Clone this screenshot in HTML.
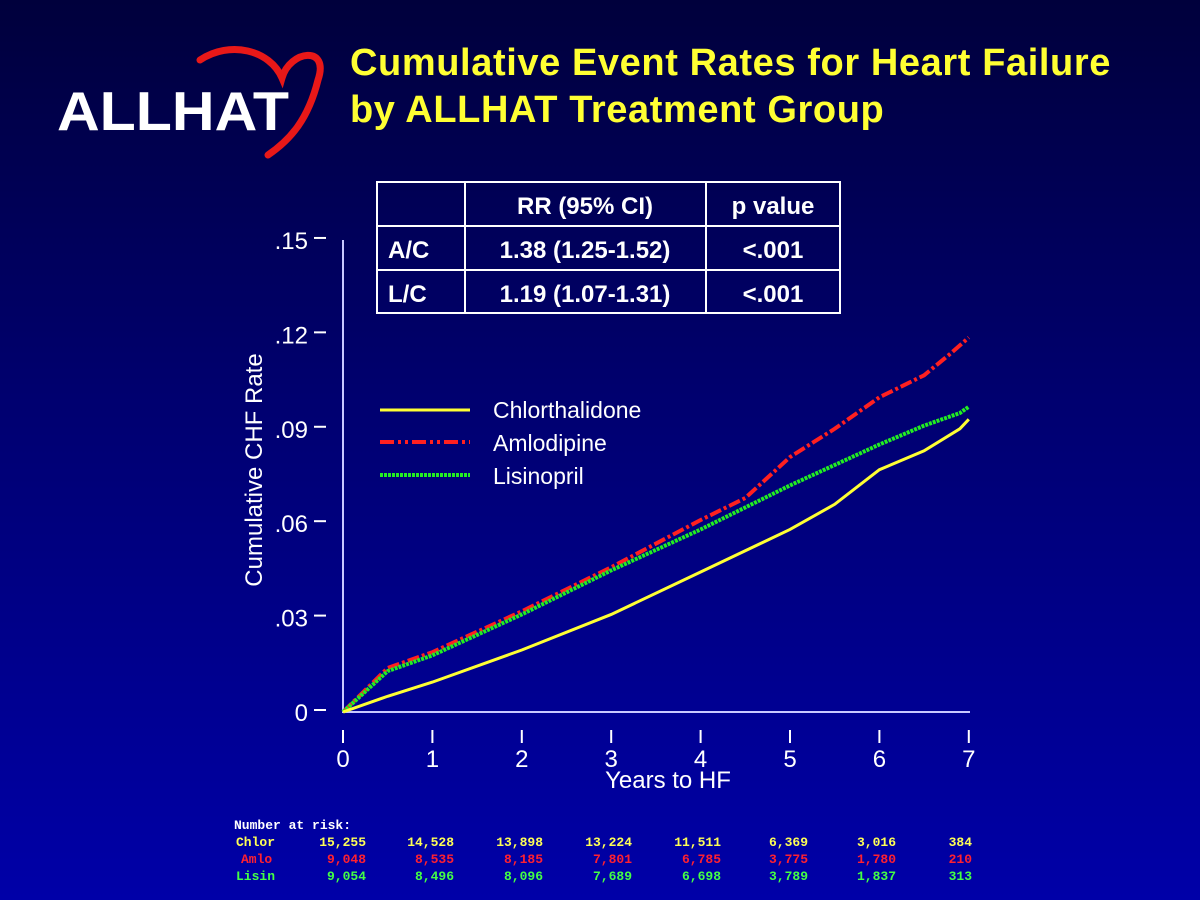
<!DOCTYPE html>
<html><head><meta charset="utf-8"><style>
html,body{margin:0;padding:0}
body{width:1200px;height:900px;overflow:hidden;background:linear-gradient(#00003c,#000070 45%,#0000a8);font-family:"Liberation Sans",Arial,sans-serif;position:relative}
.t{position:absolute;color:#ffff33;font-weight:bold;font-size:38px;letter-spacing:0.6px;left:350px;line-height:47px;top:40px;white-space:nowrap}
</style></head><body>
<div class="t">Cumulative Event Rates for Heart Failure<br>by ALLHAT Treatment Group</div>
<svg width="1200" height="900" style="position:absolute;left:0;top:0" id="svg">
<g>
<path d="M200 60 C230 40,270 50,282 78 C290 50,330 45,318 80 C308 120,290 140,268 155" fill="none" stroke="#e81818" stroke-width="7" stroke-linecap="round"/>
<text x="57" y="130" font-size="55" font-weight="bold" fill="#fff" textLength="232" lengthAdjust="spacingAndGlyphs" font-family="Liberation Sans, Arial, sans-serif">ALLHAT</text>
</g>
<g font-family="Liberation Sans, Arial, sans-serif" font-weight="bold" fill="#fff" font-size="24">
<rect x="377" y="182" width="463" height="131" fill="none" stroke="#fff" stroke-width="2"/>
<line x1="377" y1="226" x2="840" y2="226" stroke="#fff" stroke-width="2"/>
<line x1="377" y1="270" x2="840" y2="270" stroke="#fff" stroke-width="2"/>
<line x1="465" y1="182" x2="465" y2="313" stroke="#fff" stroke-width="2"/>
<line x1="706" y1="182" x2="706" y2="313" stroke="#fff" stroke-width="2"/>
<text x="585" y="214" text-anchor="middle">RR (95% CI)</text><text x="773" y="214" text-anchor="middle">p value</text>
<text x="388" y="258">A/C</text><text x="585" y="258" text-anchor="middle">1.38 (1.25-1.52)</text><text x="773" y="258" text-anchor="middle">&lt;.001</text>
<text x="388" y="302">L/C</text><text x="585" y="302" text-anchor="middle">1.19 (1.07-1.31)</text><text x="773" y="302" text-anchor="middle">&lt;.001</text>
</g>
<text x="262" y="470" transform="rotate(-90 262 470)" text-anchor="middle" font-size="24" fill="#fff">Cumulative CHF Rate</text>
<text x="668" y="788" text-anchor="middle" font-size="24" fill="#fff">Years to HF</text>
<g id="axes"></g><g id="lines"></g>
<g font-size="23" fill="#fff">
<line x1="380" y1="410" x2="470" y2="410" stroke="#ffff33" stroke-width="3"/>
<line x1="380" y1="442" x2="470" y2="442" stroke="#ff2020" stroke-width="4" stroke-dasharray="14 4 3 4 3 4"/>
<line x1="380" y1="475" x2="470" y2="475" stroke="#22ee22" stroke-width="4" stroke-dasharray="3 1"/>
<text x="493" y="418">Chlorthalidone</text><text x="493" y="451">Amlodipine</text><text x="493" y="484">Lisinopril</text>
</g>
<g id="risk" font-family="Liberation Mono, monospace" font-weight="bold" font-size="13"></g>
</svg>
<script>
const yTicks=[0,0.03,0.06,0.09,0.12,0.15];
const yTickLabels=["0",".03",".06",".09",".12",".15"];
const xTicks=[0,1,2,3,4,5,6,7];
const chlorT=[0,0.5,1,2,3,4,5,5.5,6,6.5,6.9,7];
const chlorV=[0,0.005,0.0095,0.0197,0.031,0.0445,0.058,0.066,0.077,0.083,0.090,0.093];
const amloT=[0,0.5,1,2,3,4,4.5,5,5.5,6,6.5,6.8,7];
const amloV=[0,0.014,0.019,0.032,0.046,0.061,0.068,0.081,0.090,0.100,0.107,0.114,0.119];
const lisinT=[0,0.5,1,2,3,4,5,6,6.5,6.9,7];
const lisinV=[0,0.013,0.018,0.031,0.045,0.058,0.072,0.085,0.091,0.095,0.097];
const riskLabels=["Chlor","Amlo","Lisin"];
const chlorRisk=["15,255","14,528","13,898","13,224","11,511","6,369","3,016","384"];
const amloRisk=["9,048","8,535","8,185","7,801","6,785","3,775","1,780","210"];
const lisinRisk=["9,054","8,496","8,096","7,689","6,698","3,789","1,837","313"];
const X=t=>343+t*89.4, Y=v=>712-v*3147;
const NS="http://www.w3.org/2000/svg";
function mk(p,tag,a){const e=document.createElementNS(NS,tag);for(const k in a)e.setAttribute(k,a[k]);p.appendChild(e);return e;}
const ax=document.getElementById('axes');
let l=mk(ax,'line',{x1:343,y1:240,x2:343,y2:712,stroke:'#c8c8ff','stroke-width':2});


l=mk(ax,'line',{x1:342,y1:712,x2:970,y2:712,stroke:'#c8c8ff','stroke-width':2});


yTicks.forEach((v,i)=>{mk(ax,'line',{x1:314,y1:Y(v)-2,x2:326,y2:Y(v)-2,stroke:'#fff','stroke-width':2});
const t=mk(ax,'text',{x:308,y:Y(v)+9,'text-anchor':'end','font-size':24,fill:'#fff'});t.textContent=yTickLabels[i];

});
xTicks.forEach(v=>{mk(ax,'line',{x1:X(v),y1:730,x2:X(v),y2:743,stroke:'#fff','stroke-width':2});
const t=mk(ax,'text',{x:X(v),y:767,'text-anchor':'middle','font-size':24,fill:'#fff'});t.textContent=v;

});
const lg=document.getElementById('lines');
function series(T,V,c,w,dash,name){const p=mk(lg,'polyline',{points:T.map((t,i)=>X(t)+','+Y(V[i])).join(' '),fill:'none',stroke:c,'stroke-width':w,'stroke-dasharray':dash});

}
series(amloT,amloV,'#ff2020',4,'12 3 3 3','amlodipine-line');
series(lisinT,lisinV,'#22ee22',4,'3 1','lisinopril-line');
series(chlorT,chlorV,'#ffff33',3,'none','chlorthalidone-line');
const rk=document.getElementById('risk');
let h=mk(rk,'text',{x:234,y:829,fill:'#fff'});h.textContent='Number at risk:';


const cols=['#ffff55','#ff2030','#44ff44'];
[chlorRisk,amloRisk,lisinRisk].forEach((row,r)=>{const y=846+r*17;
const lb=mk(rk,'text',{x:[236,241,236][r],y:y,fill:cols[r]});lb.textContent=riskLabels[r];


row.forEach((v,i)=>{const xs=[366,454,543,632,721,808,896,972];const t=mk(rk,'text',{x:xs[i],y:y,fill:cols[r],'text-anchor':'end'});t.textContent=v;

});});
</script>
</body></html>
